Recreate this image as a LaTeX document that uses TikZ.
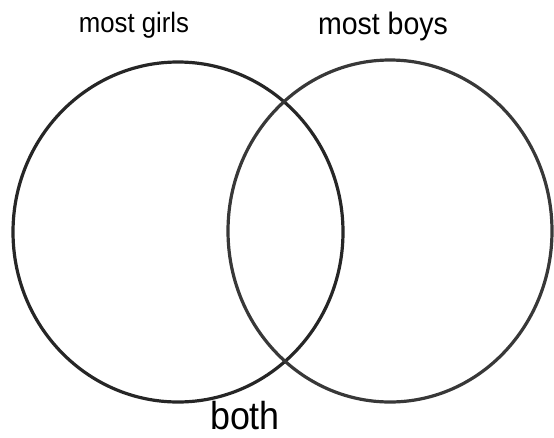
\documentclass[tikz,border=0pt]{standalone}
\usepackage{fontspec}
\setmainfont{Liberation Sans}
\begin{document}
\begin{tikzpicture}[x=1pt,y=-1pt,
  ring/.style={line width=3.2pt},
  lab/.style={anchor=base,inner sep=0pt,xscale=0.92}]
\useasboundingbox (0,0) rectangle (554,437);
\draw[ring,draw=black!85] (178,232) ellipse [x radius=165, y radius=170];
\draw[ring,draw=black!78] (390,231) ellipse [x radius=162, y radius=171];
\node[lab,font=\fontsize{28}{30}\selectfont] (g) at (134,32) {most girls};
\node[lab,font=\fontsize{31}{33}\selectfont] (b) at (383,34) {most boys};
\node[lab,font=\fontsize{39}{41}\selectfont] (both) at (245,429) {both};
\end{tikzpicture}
\end{document}
